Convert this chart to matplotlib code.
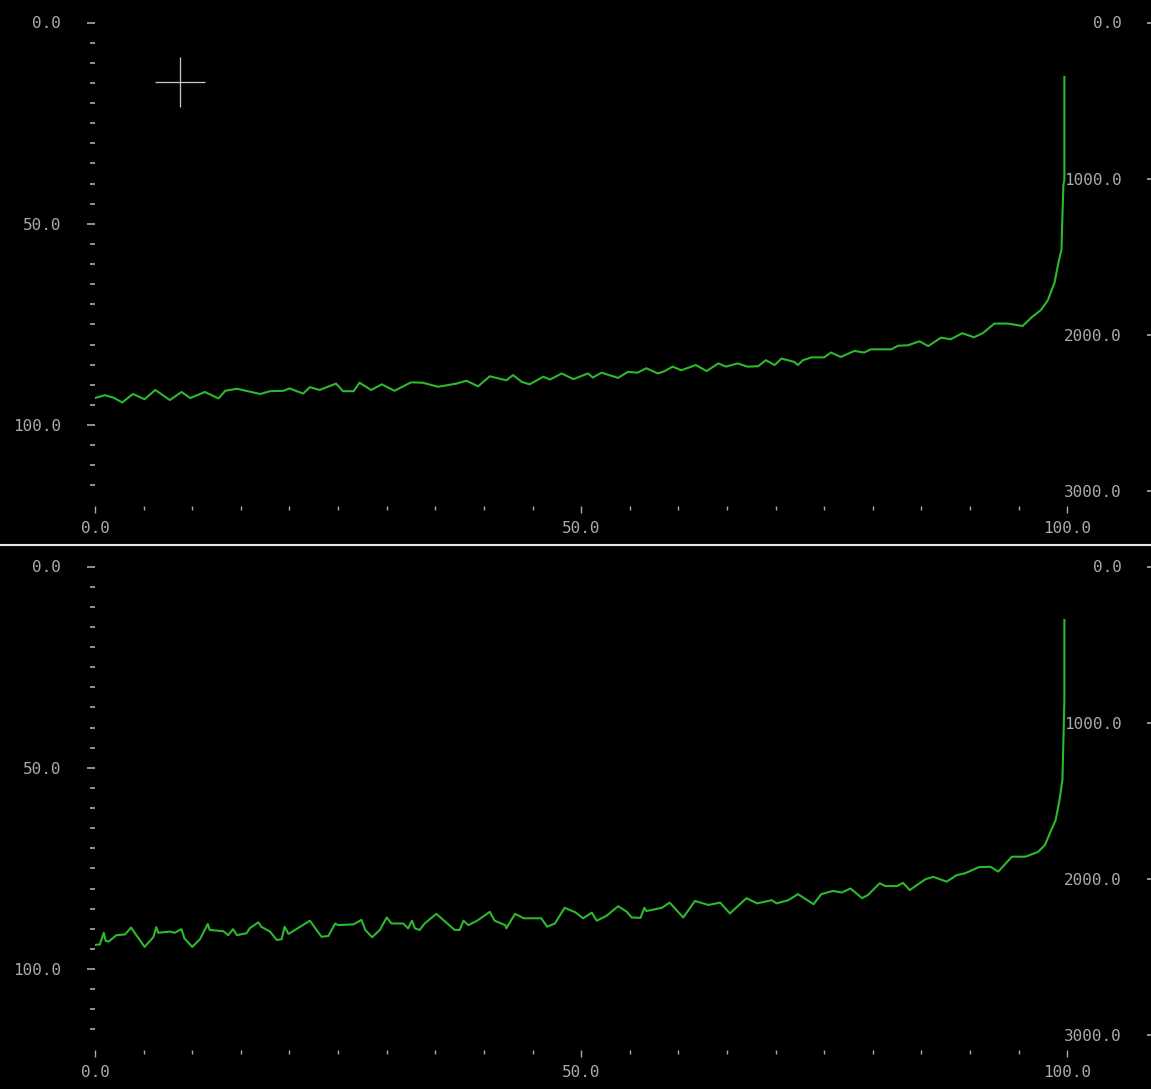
import matplotlib
matplotlib.use("Agg")
import matplotlib.pyplot as plt
from matplotlib.lines import Line2D
from matplotlib.ticker import FixedLocator

# data, x in % and y in left-axis units
top_x = [0.0, 1.0, 1.9, 2.8, 3.9, 5.1, 6.2, 7.7, 8.9, 9.8, 11.3, 12.7, 13.4, 14.6,
         17.0, 18.0, 19.4, 20.0, 21.4, 22.1, 23.1, 24.8, 25.5, 26.6, 27.2, 28.4,
         29.5, 30.8, 32.5, 33.7, 35.3, 37.2, 38.2, 39.4, 40.6, 42.3, 43.0, 43.9,
         44.7, 46.1, 46.8, 48.0, 49.2, 50.7, 51.2, 52.1, 53.8, 54.8, 55.8, 56.7,
         57.9, 58.6, 59.4, 60.3, 61.8, 62.9, 64.1, 64.9, 66.1, 67.1, 68.2, 69.0,
         69.9, 70.6, 71.9, 72.3, 72.8, 73.7, 75.0, 75.7, 76.7, 78.1, 79.1, 79.8,
         81.9, 82.6, 83.6, 84.8, 85.7, 87.0, 88.0, 89.2, 90.4, 91.3, 92.5, 93.9,
         95.4, 96.4, 97.3, 98.0, 98.7, 99.1, 99.4, 99.5, 99.6, 99.7, 99.7]
top_y = [93.3, 92.6, 93.2, 94.4, 92.3, 93.6, 91.3, 93.8, 91.8, 93.3, 91.8, 93.4, 91.5, 91.0,
         92.3, 91.6, 91.5, 90.9, 92.2, 90.6, 91.3, 89.7, 91.6, 91.6, 89.5, 91.3,
         89.9, 91.5, 89.4, 89.5, 90.5, 89.7, 89.0, 90.4, 87.9, 88.9, 87.6, 89.3,
         89.9, 88.0, 88.7, 87.2, 88.6, 87.2, 88.2, 87.0, 88.3, 86.8, 87.0, 85.9,
         87.2, 86.6, 85.5, 86.4, 85.1, 86.6, 84.7, 85.5, 84.7, 85.5, 85.4, 83.9,
         85.1, 83.5, 84.3, 85.1, 83.9, 83.2, 83.2, 82.0, 83.1, 81.6, 82.0, 81.2,
         81.2, 80.3, 80.2, 79.2, 80.4, 78.3, 78.7, 77.2, 78.2, 77.2, 74.8, 74.8,
         75.4, 73.1, 71.4, 69.0, 64.5, 59.5, 56.5, 47.8, 40.4, 39.1, 13.5]

bot_x = [0.0, 0.5, 0.9, 1.1, 1.4, 2.2, 3.1, 3.7, 5.1, 6.0, 6.3, 6.5, 7.7, 8.2, 8.9,
         9.2, 10.0, 10.8, 11.6, 11.8, 13.2, 13.7, 14.2, 14.6, 15.6, 15.9, 16.8,
         17.1, 18.0, 18.7, 19.2, 19.5, 19.9, 21.1, 22.1, 23.3, 24.0, 24.7, 25.0,
         26.6, 27.4, 27.8, 28.5, 29.3, 30.0, 30.5, 31.7, 32.2, 32.6, 32.9, 33.4,
         33.9, 35.1, 37.0, 37.5, 37.9, 38.4, 39.3, 40.6, 41.1, 42.2, 42.3, 43.2,
         44.1, 45.9, 46.5, 47.3, 48.3, 49.4, 50.2, 51.1, 51.6, 52.6, 53.8, 54.7,
         55.2, 56.1, 56.5, 56.7, 58.3, 59.1, 60.5, 61.7, 63.1, 64.3, 65.3, 67.0,
         68.1, 69.6, 70.1, 71.3, 72.3, 73.9, 74.7, 75.9, 76.8, 77.7, 78.9, 79.5,
         80.7, 81.3, 82.5, 83.1, 83.8, 85.4, 86.2, 87.6, 88.6, 89.5, 90.9, 92.1,
         92.9, 94.3, 95.7, 97.0, 97.7, 98.2, 98.8, 99.2, 99.5, 99.6, 99.7, 99.7]
bot_y = [94.0, 93.9, 91.0, 93.0, 93.2, 91.6, 91.4, 89.7, 94.5, 92.1, 89.6, 91.0, 90.7, 91.0, 90.1,
         92.4, 94.5, 92.6, 88.8, 90.3, 90.6, 91.6, 90.1, 91.6, 91.1, 89.9, 88.4,
         89.5, 90.7, 92.8, 92.6, 89.5, 91.3, 89.5, 88.0, 92.0, 91.8, 88.7, 89.1,
         88.9, 87.8, 90.3, 92.1, 90.3, 87.2, 88.7, 88.7, 89.9, 88.0, 89.9, 90.3,
         88.7, 86.3, 90.3, 90.3, 88.0, 89.1, 88.0, 85.8, 88.0, 89.1, 89.9, 86.3,
         87.4, 87.4, 89.5, 88.7, 84.8, 85.9, 87.4, 86.0, 88.0, 86.8, 84.4, 85.8,
         87.2, 87.3, 84.8, 85.6, 84.8, 83.5, 87.2, 83.1, 84.1, 83.5, 86.2, 82.4,
         83.7, 82.9, 83.7, 82.9, 81.4, 83.9, 81.4, 80.6, 81.0, 80.0, 82.4, 81.6,
         78.7, 79.4, 79.4, 78.6, 80.4, 77.7, 77.1, 78.3, 76.7, 76.2, 74.7, 74.6,
         75.8, 72.1, 72.1, 70.9, 69.2, 66.3, 63.0, 58.0, 53.0, 43.1, 33.2, 13.3]

x_ticks = [0, 50, 100]
x_labels = ["0.0", "50.0", "100.0"]
x_minor = [5, 10, 15, 20, 25, 30, 35, 40, 45, 55, 60, 65, 70, 75, 80, 85, 90, 95]
left_ticks = [0, 50, 100]
left_labels = ["0.0", "50.0", "100.0"]
left_minor = [5, 10, 15, 20, 25, 30, 35, 40, 45, 55, 60, 65, 70, 75, 80, 85, 90, 95,
              105, 110, 115]
right_ticks = [0, 1000, 2000, 3000]
right_labels = ["0.0", "1000.0", "2000.0", "3000.0"]

cursor_x, cursor_y = 8.74, 14.8

fg = '#aaaaaa'
green = '#2eb82e'

plt.rcParams['font.family'] = ['DejaVu Sans Mono', 'DejaVu Sans']
plt.rcParams['font.size'] = 11.5

fig = plt.figure(figsize=(11.51, 10.89), dpi=100, facecolor='black')

W, H = 1151.0, 1089.0
ax_left = 95 / W
ax_width = (W - 95) / W
panels = [(22.5, top_x, top_y), (566.5, bot_x, bot_y)]

for i, (top_px, xs, ys) in enumerate(panels):
    bottom = 1 - (top_px + 483) / H
    ax = fig.add_axes([ax_left, bottom, ax_width, 483 / H])
    ax.set_facecolor('black')
    for s in ax.spines.values():
        s.set_visible(False)

    ax.plot(xs, ys, color=green, lw=1.5)
    if i == 0:
        # cursor crosshair
        ax.plot([cursor_x], [cursor_y], marker='+', ms=36, mew=0.9, color='#c8c8c8')

    ax.set_xlim(0, (W - 95) / 9.723)
    ax.set_ylim(120, 0)

    ax.xaxis.set_major_locator(FixedLocator(x_ticks))
    ax.set_xticklabels(x_labels)
    ax.xaxis.set_minor_locator(FixedLocator(x_minor))
    ax.yaxis.set_major_locator(FixedLocator(left_ticks))
    ax.set_yticklabels(left_labels)
    ax.yaxis.set_minor_locator(FixedLocator(left_minor))

    ax.tick_params(axis='x', which='major', colors=fg, length=5, width=1, pad=6.5)
    ax.tick_params(axis='x', which='minor', colors=fg, length=3, width=1)
    ax.tick_params(axis='y', which='major', colors=fg, length=5.8, width=1.2, pad=18.5)
    ax.tick_params(axis='y', which='minor', colors=fg, length=3.6, width=1.2)

    # right scale
    ax2 = ax.twinx()
    for s in ax2.spines.values():
        s.set_visible(False)
    ax2.set_ylim(3095, 0)
    ax2.yaxis.set_major_locator(FixedLocator(right_ticks))
    ax2.set_yticklabels(right_labels)
    ax2.tick_params(axis='y', direction='in', colors=fg, length=3, width=1.2, pad=-21)
    for t in ax2.get_yticklabels():
        t.set_horizontalalignment('right')

# white separator between the two panels
fig.add_artist(Line2D([0, 1], [1 - 545.3 / H, 1 - 545.3 / H], transform=fig.transFigure,
                      color='#e8e8e8', lw=1.5))

fig.savefig('out.png', dpi=100, facecolor='black')
